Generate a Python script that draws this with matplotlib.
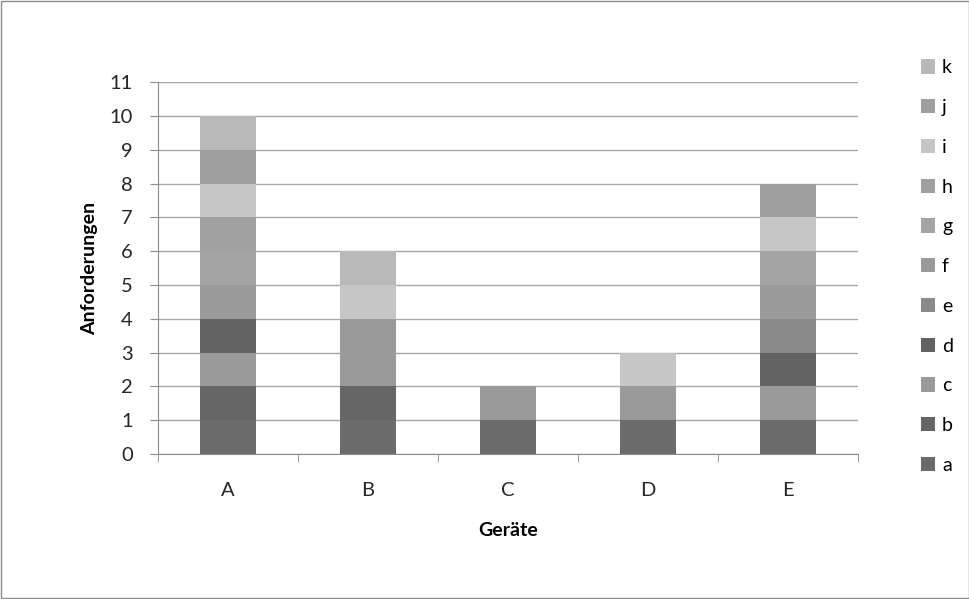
import numpy as np
import matplotlib.pyplot as plt
from matplotlib.patches import Rectangle

# Daten
geraete = ['A', 'B', 'C', 'D', 'E']
serien = ['a', 'b', 'c', 'd', 'e', 'f', 'g', 'h', 'i', 'j', 'k']
a = [1, 1, 1, 1, 1]
b = [1, 1, 0, 0, 0]
c = [1, 1, 1, 1, 1]
d = [1, 0, 0, 0, 1]
e = [0, 0, 0, 0, 1]
f = [1, 1, 0, 0, 1]
g = [1, 0, 0, 0, 1]
h = [1, 0, 0, 0, 0]
i = [1, 1, 0, 1, 1]
j = [1, 0, 0, 0, 1]
k = [1, 1, 0, 0, 0]
werte = [a, b, c, d, e, f, g, h, i, j, k]
farben = ['#6b6b6b', '#666666', '#9a9a9a', '#636363', '#8a8a8a', '#9a9a9a',
          '#a4a4a4', '#a0a0a0', '#c6c6c6', '#9f9f9f', '#b9b9b9']

plt.rcParams['font.family'] = ['Lato', 'DejaVu Sans']

fig = plt.figure(figsize=(9.7, 5.99), dpi=100)
ax = fig.add_axes([0.1625, 0.2420, 0.7225, 0.6210])

x = np.arange(len(geraete))
unten = np.zeros(len(geraete))
handles = []
for name, w, col in zip(serien, werte, farben):
    bars = ax.bar(x, w, 0.4, bottom=unten, color=col, label=name, zorder=2)
    handles.append(bars)
    unten += np.array(w)

ax.set_xlim(-0.5, 4.5)
ax.set_ylim(0, 11)
ax.set_yticks(range(0, 12))
ax.set_xticks(x)
ax.set_xticks(np.arange(-0.5, 5, 1), minor=True)
ax.set_xticklabels(geraete)
ax.tick_params(axis='x', which='major', length=0, pad=20, labelsize=14.5, colors='#262626')
ax.tick_params(axis='x', which='minor', length=6, color='#8c8c8c')
ax.tick_params(axis='y', length=6, color='#8c8c8c', labelsize=14.5, labelcolor='#262626', pad=12)
ax.grid(axis='y', color='#a6a6a6', linewidth=1, zorder=1)
ax.set_axisbelow(True)
for s in ['top', 'right']:
    ax.spines[s].set_visible(False)
for s in ['left', 'bottom']:
    ax.spines[s].set_color('#8c8c8c')

ax.set_ylabel('Anforderungen', fontsize=14, fontweight='bold', labelpad=8)
ax.set_xlabel('Geräte', fontsize=14, fontweight='bold', labelpad=17)

fig.legend(handles[::-1], serien[::-1], loc='upper left', bbox_to_anchor=(0.941, 0.914),
           frameon=False, fontsize=14, handlelength=0.75, handleheight=0.75,
           handletextpad=0.35, labelspacing=1.17, borderaxespad=0)

fig.patches.append(Rectangle((0.001, 0.001), 0.998, 0.997, transform=fig.transFigure,
                             fill=False, edgecolor='#8c8c8c', linewidth=1))

fig.savefig('out.png', dpi=100)
